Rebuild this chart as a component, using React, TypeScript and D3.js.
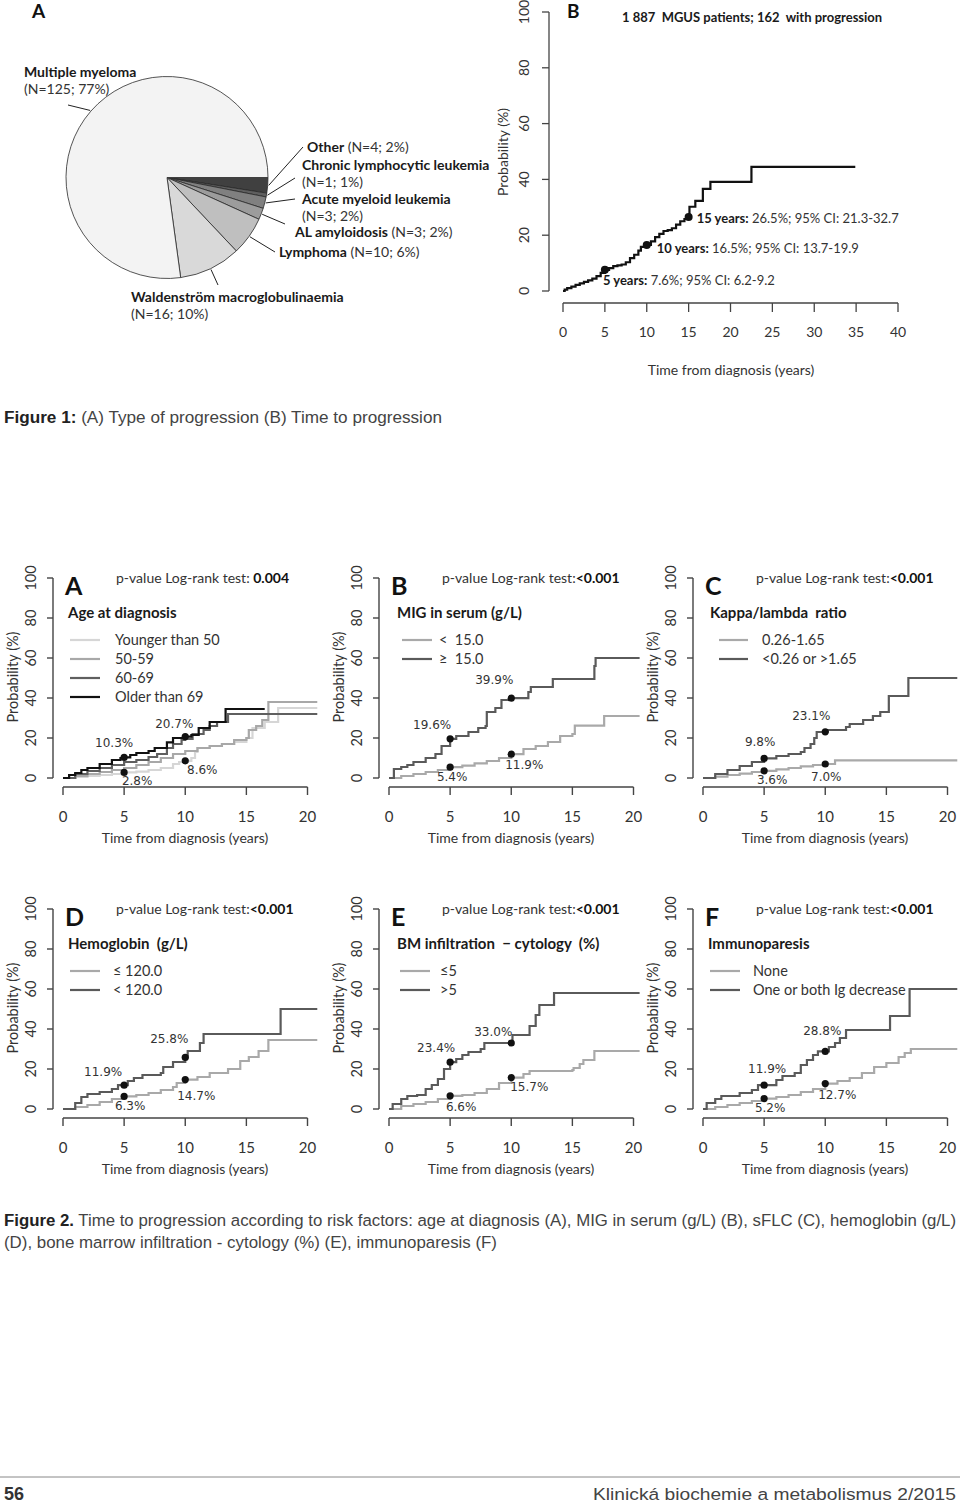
import React from "react";
import * as d3 from "d3";

// ---------------- DATA ----------------
// Figure 1A – type of progression (pie)
const pieCategories = [
  "Other",
  "Chronic lymphocytic leukemia",
  "Acute myeloid leukemia",
  "AL amyloidosis",
  "Lymphoma",
  "Waldenström macroglobulinaemia",
  "Multiple myeloma",
];
const pieCounts = [4, 1, 3, 3, 10, 16, 125];
const piePercents = [2, 1, 2, 2, 6, 10, 77];
const pieColors = ["#404040", "#5f5f5f", "#808080", "#9c9c9c", "#bfbfbf", "#d9d9d9", "#f3f3f3"];

// Figure 1B – time to progression, whole cohort
const mgusTitle = "1 887  MGUS patients; 162  with progression";
const mgusCurve: [number, number][] = [
  [0, 0], [0.2, 0.5], [0.5, 1], [1, 1.6], [1.5, 2.2], [2, 2.7], [2.5, 3.3], [3, 3.8], [3.5, 4.4],
  [4, 5.3], [4.5, 6.5], [5, 7.6], [5.5, 8.2], [6, 8.9], [6.5, 9.2], [7, 9.5], [7.5, 10.3], [8, 11.8],
  [8.5, 13], [9, 14.5], [9.3, 15.8], [10, 16.5], [10.5, 17.8], [11, 19.3], [11.5, 20.5], [12, 21.5],
  [12.5, 21.8], [13, 22.5], [13.5, 23.8], [14, 25], [14.5, 25.8], [15, 26.5], [15.1, 30.2], [15.8, 32.3],
  [16.7, 36.6], [17.6, 39.1], [22.5, 44.5], [34.9, 44.5],
];
const mgusMilestoneYears = [5, 10, 15];
const mgusMilestoneProb = [7.6, 16.5, 26.5];
const mgusMilestoneCI = ["6.2-9.2", "13.7-19.9", "21.3-32.7"];
const fig1XTicks = [0, 5, 10, 15, 20, 25, 30, 35, 40];
const fig1YTicks = [0, 20, 40, 60, 80, 100];

// Figure 2 – ticks
const fig2XTicks = [0, 5, 10, 15, 20];
const fig2YTicks = [0, 20, 40, 60, 80, 100];

// Figure 2A – age at diagnosis
const ageYounger50: [number, number][] = [
  [0, 0], [1, 0.5], [2, 1], [3, 1.5], [4, 2], [5, 2.8], [6, 3.2], [7, 4], [8, 5], [9, 7], [9.5, 8],
  [10, 8.6], [10.5, 10], [10.8, 13], [11, 15], [12, 16], [13, 17], [14, 18], [15, 20], [15.5, 25],
  [16.5, 28], [17.6, 35], [20.8, 35],
];
const age50to59: [number, number][] = [
  [0, 0], [1, 1], [2, 2], [3, 3], [4, 4], [5, 5], [6, 6.5], [7, 8], [8, 10], [9, 12], [10, 13.5],
  [11, 15], [12, 16], [13, 17], [14, 19], [15, 20], [15.2, 24], [15.8, 26], [16.3, 29], [16.8, 38], [20.8, 38],
];
const age60to69: [number, number][] = [
  [0, 0], [1, 2], [2, 3.5], [3, 5], [4, 6.5], [5, 8], [6, 9], [7, 10.5], [7.7, 12], [8.5, 15], [9, 17],
  [9.7, 19], [10, 19.5], [10.6, 22], [11.5, 24], [12, 26], [12.6, 28], [13.5, 32], [20.8, 32],
];
const ageOver69: [number, number][] = [
  [0, 0], [0.5, 1.5], [1, 2.5], [1.5, 4], [2, 5], [3, 7], [4, 9], [4.7, 10], [5, 10.3], [5.5, 11.5],
  [6, 12.5], [7, 13.5], [7.5, 15], [8.5, 17.8], [9, 20], [10, 20.7], [10.5, 21.5], [11.1, 25], [12, 28],
  [13.3, 34.5], [16.5, 34.5],
];
const ageMarkYears = [5, 5, 10, 10];
const ageMarkValues = [10.3, 2.8, 20.7, 8.6];

// Figure 2B – MIG in serum
const migLow: [number, number][] = [
  [0, 0], [1, 1], [2, 2], [3, 3], [4, 4], [5, 5.4], [6, 6.2], [7, 7.3], [8, 8.5], [9, 10], [10, 11.9],
  [11, 14.5], [12, 16], [13, 18], [14, 21], [15, 22], [15.2, 26.2], [17.6, 31], [20.5, 31],
];
const migHigh: [number, number][] = [
  [0, 0], [0.4, 4.5], [1, 5.5], [1.5, 6.5], [2, 8], [3, 10], [3.8, 12], [4.3, 16], [5, 19.6], [5.5, 21],
  [6.5, 23], [7.3, 25], [7.9, 26], [8, 33], [8.7, 35], [9.2, 39], [10, 39.9], [11.4, 43], [11.6, 45.5],
  [13.4, 49.5], [16.8, 56], [16.9, 60], [20.5, 60],
];
const migMarkYears = [5, 5, 10, 10];
const migMarkValues = [19.6, 5.4, 39.9, 11.9];

// Figure 2C – kappa/lambda ratio
const kappaNormal: [number, number][] = [
  [0, 0], [1, 0.7], [2, 1.5], [3, 2.2], [4, 3], [5, 3.6], [6, 4.3], [7, 5], [8, 5.8], [9, 6.5], [10, 7],
  [10.8, 8.8], [20.8, 8.8],
];
const kappaAbnormal: [number, number][] = [
  [0, 0], [1, 2], [2, 4], [3, 6], [4, 8], [5, 9.8], [6, 11], [7, 12], [8, 13], [8.3, 15], [8.8, 17],
  [9.1, 20], [9.3, 23], [10, 23.1], [10.2, 24], [11.7, 25.5], [12, 27], [13.1, 29], [13.9, 31], [14.5, 33],
  [15.2, 41], [16.8, 50], [20.8, 50],
];
const kappaMarkYears = [5, 5, 10, 10];
const kappaMarkValues = [9.8, 3.6, 23.1, 7.0];

// Figure 2D – hemoglobin
const hbLow: [number, number][] = [
  [0, 0], [1, 1], [2, 2], [3, 3.5], [4, 5], [5, 6.3], [6, 7], [7, 8], [8, 9.5], [9, 11], [9.3, 13],
  [10, 14.7], [11, 16], [12, 18], [13.5, 20], [14.5, 24], [15.2, 26], [16, 29], [16.8, 34.5], [20.8, 34.5],
];
const hbHigh: [number, number][] = [
  [0, 0], [1, 3], [1.5, 6], [2, 7.5], [3, 8.5], [4, 10], [4.5, 11.9], [5.3, 14], [5.8, 15.5], [6.5, 17],
  [8, 18], [8.2, 21], [9, 23.5], [10, 25.8], [10.2, 29], [11.2, 33], [11.5, 37.5], [17.8, 50], [20.8, 50],
];
const hbMarkYears = [5, 5, 10, 10];
const hbMarkValues = [11.9, 6.3, 25.8, 14.7];

// Figure 2E – BM infiltration
const bmLow: [number, number][] = [
  [0, 0], [1, 1.5], [2, 2.5], [3, 3.5], [4, 5], [5, 6.6], [6, 7], [7, 8], [8, 10], [9, 13], [10, 15.7],
  [11, 17.5], [11.5, 19], [15, 19.5], [15.1, 20.5], [15.6, 22.5], [15.9, 24.5], [16.8, 29], [20.5, 29],
];
const bmHigh: [number, number][] = [
  [0, 0], [0.3, 2.5], [1, 5], [1.5, 6.5], [2.3, 7], [3, 10], [3.5, 12], [4, 15], [4.5, 20], [5, 23.4],
  [5.5, 25], [6, 27], [6.5, 28.5], [7.5, 30], [7.8, 33], [10.1, 37], [11.5, 41.5], [12, 47], [12.3, 52],
  [13.5, 58], [20.5, 58],
];
const bmMarkYears = [5, 5, 10, 10];
const bmMarkValues = [23.4, 6.6, 33.0, 15.7];

// Figure 2F – immunoparesis
const ipNone: [number, number][] = [
  [0, 0], [1, 1], [2, 2], [3, 3], [4, 4], [5, 5.2], [6, 6], [7, 7], [8, 8.5], [9, 10], [10, 12.7],
  [11, 14], [12, 15.5], [13, 18], [14, 21], [15, 23], [16, 26], [16.5, 28], [17, 30], [20.8, 30],
];
const ipDecrease: [number, number][] = [
  [0, 0], [0.3, 3], [1, 5], [1.5, 6.5], [3, 8], [4, 9.5], [4.5, 11.9], [6, 14.5], [6.5, 16.5], [7.5, 18],
  [8, 22], [8.5, 24.5], [9, 27], [9.4, 28.8], [10.3, 31], [10.8, 33], [11.2, 35.5], [11.7, 39.5],
  [15.3, 46.5], [16.9, 60], [20.8, 60],
];
const ipMarkYears = [5, 5, 10, 10];
const ipMarkValues = [11.9, 5.2, 28.8, 12.7];

const fig2Letters = ["A", "B", "C", "D", "E", "F"];
const fig2PValues = ["0.004", "<0.001", "<0.001", "<0.001", "<0.001", "<0.001"];
const fig2Titles = [
  "Age at diagnosis",
  "MIG in serum (g/L)",
  "Kappa/lambda  ratio",
  "Hemoglobin  (g/L)",
  "BM infiltration  \u2212 cytology  (%)",
  "Immunoparesis",
];

// ---------------- STYLE / LAYOUT ----------------
const FONT = "Lato, 'Open Sans', sans-serif";
const CAPTION_FONT = "'Liberation Sans', Arial, sans-serif";
const LIGHT = "#a9a9a9";
const DARK = "#5a5a5a";
const CAP_SX = 0.88;

const pieLayout = [
  { lead: [303, 147], x: 307, y: 152, split: false },
  { lead: [295, 178], x: 302, y: 170, split: true },
  { lead: [295, 199], x: 302, y: 204, split: true },
  { lead: [285, 224], x: 295, y: 237, split: false },
  { lead: [275, 252], x: 279, y: 257, split: false },
  { lead: [218, 285], x: 131, y: 302, split: true },
  { lead: [68, 105], x: 24, y: 77, split: true },
];

const fig2Panels = [
  {
    series: [
      { name: "Younger than 50", data: ageYounger50, color: "#d6d6d6" },
      { name: "50-59", data: age50to59, color: "#a8a8a8" },
      { name: "60-69", data: age60to69, color: "#5f5f5f" },
      { name: "Older than 69", data: ageOver69, color: "#111111" },
    ],
    markYears: ageMarkYears, markValues: ageMarkValues,
  },
  {
    series: [
      { name: "<  15.0", data: migLow, color: LIGHT },
      { name: "\u2265  15.0", data: migHigh, color: DARK },
    ],
    markYears: migMarkYears, markValues: migMarkValues,
  },
  {
    series: [
      { name: "0.26-1.65", data: kappaNormal, color: LIGHT },
      { name: "<0.26 or >1.65", data: kappaAbnormal, color: DARK },
    ],
    markYears: kappaMarkYears, markValues: kappaMarkValues,
  },
  {
    series: [
      { name: "\u2264 120.0", data: hbLow, color: LIGHT },
      { name: "< 120.0", data: hbHigh, color: DARK },
    ],
    markYears: hbMarkYears, markValues: hbMarkValues,
  },
  {
    series: [
      { name: "\u22645", data: bmLow, color: LIGHT },
      { name: ">5", data: bmHigh, color: DARK },
    ],
    markYears: bmMarkYears, markValues: bmMarkValues,
  },
  {
    series: [
      { name: "None", data: ipNone, color: LIGHT },
      { name: "One or both Ig decrease", data: ipDecrease, color: DARK },
    ],
    markYears: ipMarkYears, markValues: ipMarkValues,
  },
];

const fig2Layout = [
  { ox: 0, oy: 560, titleX: 68, lx1: 70, lx2: 100, tx: 115, pvSpace: true,
    offs: [[-10, -10], [13, 13], [-11, -9], [17, 13]] },
  { ox: 326, oy: 560, titleX: 71, lx1: 76, lx2: 106, tx: 113, pvSpace: false,
    offs: [[-18, -10], [2, 14], [-17, -14], [13, 15]] },
  { ox: 640, oy: 560, titleX: 70, lx1: 79, lx2: 108, tx: 122, pvSpace: false,
    offs: [[-4, -12], [8, 13], [-14, -12], [1, 17]] },
  { ox: 0, oy: 891, titleX: 68, lx1: 70, lx2: 100, tx: 113, pvSpace: false,
    offs: [[-21, -9], [6, 14], [-16, -14], [11, 20]] },
  { ox: 326, oy: 891, titleX: 71, lx1: 74, lx2: 104, tx: 114, pvSpace: false,
    offs: [[-14, -10], [11, 15], [-18, -7], [18, 13]] },
  { ox: 640, oy: 891, titleX: 68, lx1: 70, lx2: 100, tx: 113, pvSpace: false,
    offs: [[3, -12], [6, 13], [-3, -16], [12, 15]] },
];

// ---------------- COMPONENTS ----------------
function PieChart() {
  const cx = 167, cy = 177.5, r = 101;
  const arcs = d3
    .pie<number>()
    .sort(null)
    .startAngle(Math.PI / 2)
    .endAngle(Math.PI / 2 + 2 * Math.PI)(pieCounts);
  const arc = d3.arc<d3.PieArcDatum<number>>().innerRadius(0).outerRadius(r);
  return (
    <g>
      <text x={32} y={18} fontFamily={FONT} fontWeight={700} fontSize={19} fill="#111">A</text>
      <g transform={`translate(${cx},${cy})`}>
        {arcs.map((a, i) => (
          <path key={i} d={arc(a) || ""} fill={pieColors[i]} stroke="#2a2a2a" strokeWidth={0.8} />
        ))}
      </g>
      {arcs.map((a, i) => {
        const mid = (a.startAngle + a.endAngle) / 2;
        const sx = cx + (r + 1) * Math.sin(mid);
        const sy = cy - (r + 1) * Math.cos(mid);
        const L = pieLayout[i];
        const detail = `(N=${pieCounts[i]}; ${piePercents[i]}%)`;
        return (
          <g key={i} fontFamily={FONT} fontSize={14}>
            <line x1={sx} y1={sy} x2={L.lead[0]} y2={L.lead[1]} stroke="#222" strokeWidth={1} />
            {L.split ? (
              <>
                <text x={L.x} y={L.y} fontWeight={700} fill="#1a1a1a">{pieCategories[i]}</text>
                <text x={L.x} y={L.y + 17} fill="#333">{detail}</text>
              </>
            ) : (
              <text x={L.x} y={L.y} fill="#333" style={{ whiteSpace: "pre" }}>
                <tspan fontWeight={700} fill="#1a1a1a">{pieCategories[i]}</tspan>
                {" " + detail}
              </text>
            )}
          </g>
        );
      })}
    </g>
  );
}

function MgusChart() {
  const x = d3.scaleLinear().domain([0, 40]).range([563, 898]);
  const y = d3.scaleLinear().domain([0, 100]).range([291, 12]);
  const line = d3
    .line<[number, number]>()
    .x((d) => x(d[0]))
    .y((d) => y(d[1]))
    .curve(d3.curveStepAfter);
  const offs = [[-2, 15], [10, 8], [8, 6]];
  return (
    <g fontFamily={FONT} fill="#333">
      <line x1={549} x2={549} y1={y(100)} y2={y(0)} stroke="#444" strokeWidth={1.3} />
      {fig1YTicks.map((t) => (
        <g key={t}>
          <line x1={542} x2={549} y1={y(t)} y2={y(t)} stroke="#444" strokeWidth={1.3} />
          <text transform={`translate(523,${y(t)}) rotate(-90)`} textAnchor="middle" dominantBaseline="central" fontSize={14}>{t}</text>
        </g>
      ))}
      <line x1={x(0)} x2={x(40)} y1={303} y2={303} stroke="#444" strokeWidth={1.3} />
      {fig1XTicks.map((t) => (
        <g key={t}>
          <line x1={x(t)} x2={x(t)} y1={303} y2={312} stroke="#444" strokeWidth={1.3} />
          <text x={x(t)} y={337} textAnchor="middle" fontSize={14}>{t}</text>
        </g>
      ))}
      <text x={731} y={375} textAnchor="middle" fontSize={14}>Time from diagnosis (years)</text>
      <text transform="translate(502,152) rotate(-90)" textAnchor="middle" dominantBaseline="central" fontSize={14}>Probability (%)</text>
      <text x={567} y={18} fontWeight={700} fontSize={19} fill="#111">B</text>
      <text x={622} y={22} fontWeight={700} fontSize={13} fill="#1a1a1a" style={{ whiteSpace: "pre" }}>{mgusTitle}</text>
      <path d={line(mgusCurve) || ""} fill="none" stroke="#111" strokeWidth={2.2} />
      {mgusMilestoneYears.map((yr, i) => (
        <g key={yr}>
          <circle cx={x(yr)} cy={y(mgusMilestoneProb[i])} r={4} fill="#111" />
          <text x={x(yr) + offs[i][0]} y={y(mgusMilestoneProb[i]) + offs[i][1]} fontSize={13} fill="#333">
            <tspan fontWeight={700} fill="#1a1a1a">{`${yr} years:`}</tspan>
            {` ${mgusMilestoneProb[i].toFixed(1)}%; 95% CI: ${mgusMilestoneCI[i]}`}
          </text>
        </g>
      ))}
    </g>
  );
}

function KmPanel({ idx }: { idx: number }) {
  const P = fig2Panels[idx];
  const L = fig2Layout[idx];
  const x = d3.scaleLinear().domain([0, 20]).range([63, 307.5]);
  const y = d3.scaleLinear().domain([0, 100]).range([218, 18]);
  const line = d3
    .line<[number, number]>()
    .x((d) => x(d[0]))
    .y((d) => y(d[1]))
    .curve(d3.curveStepAfter);
  return (
    <g transform={`translate(${L.ox},${L.oy})`} fontFamily={FONT} fill="#333">
      <line x1={53} x2={53} y1={y(100)} y2={y(0)} stroke="#444" strokeWidth={1.4} />
      {fig2YTicks.map((t) => (
        <g key={t}>
          <line x1={47} x2={53} y1={y(t)} y2={y(t)} stroke="#444" strokeWidth={1.4} />
          <text transform={`translate(30,${y(t)}) rotate(-90)`} textAnchor="middle" dominantBaseline="central" fontSize={14.5}>{t}</text>
        </g>
      ))}
      <line x1={x(0)} x2={x(20)} y1={227} y2={227} stroke="#444" strokeWidth={1.4} />
      {fig2XTicks.map((t) => (
        <g key={t}>
          <line x1={x(t)} x2={x(t)} y1={227} y2={235} stroke="#444" strokeWidth={1.4} />
          <text x={x(t)} y={262} textAnchor="middle" fontSize={15}>{t}</text>
        </g>
      ))}
      <text x={185} y={283} textAnchor="middle" fontSize={14}>Time from diagnosis (years)</text>
      <text transform="translate(12,117) rotate(-90)" textAnchor="middle" dominantBaseline="central" fontSize={14.5}>Probability (%)</text>
      <text x={65} y={35} fontWeight={700} fontSize={25} fill="#111">{fig2Letters[idx]}</text>
      <text x={116} y={23} fontSize={14} fill="#333">
        {L.pvSpace ? "p-value Log-rank test: " : "p-value Log-rank test:"}
        <tspan fontWeight={700} fill="#111">{fig2PValues[idx]}</tspan>
      </text>
      <text x={L.titleX} y={58} fontWeight={700} fontSize={15} fill="#1a1a1a" style={{ whiteSpace: "pre" }}>{fig2Titles[idx]}</text>
      {P.series.map((s, i) => (
        <g key={s.name}>
          <line x1={L.lx1} x2={L.lx2} y1={80 + i * 19} y2={80 + i * 19} stroke={s.color} strokeWidth={2.2} />
          <text x={L.tx} y={80 + i * 19 + 5} fontSize={14.5} fill="#333" style={{ whiteSpace: "pre" }}>{s.name}</text>
        </g>
      ))}
      {P.series.map((s) => (
        <path key={s.name} d={line(s.data) || ""} fill="none" stroke={s.color} strokeWidth={2.2} />
      ))}
      {P.markYears.map((yr, i) => (
        <g key={i}>
          <circle cx={x(yr)} cy={y(P.markValues[i])} r={3.6} fill="#111" />
          <text
            x={x(yr) + L.offs[i][0]}
            y={y(P.markValues[i]) + L.offs[i][1]}
            textAnchor="middle"
            fontFamily="'DejaVu Sans', sans-serif"
            fontSize={12}
            fill="#333"
          >
            {P.markValues[i].toFixed(1) + "%"}
          </text>
        </g>
      ))}
    </g>
  );
}

function Caption({ x, y, width, bold, rest }: { x: number; y: number; width: number; bold?: string; rest: string }) {
  return (
    <g transform={`scale(${CAP_SX},1)`}>
      <text
        x={x / CAP_SX}
        y={y}
        fontFamily={CAPTION_FONT}
        fontSize={17}
        fill="#444"
        textLength={width / CAP_SX}
        lengthAdjust="spacingAndGlyphs"
        style={{ whiteSpace: "pre" }}
      >
        {bold ? <tspan fontWeight={700} fill="#222">{bold}</tspan> : null}
        {rest}
      </text>
    </g>
  );
}

export default function App() {
  return (
    <svg
      width={960}
      height={1505}
      viewBox="0 0 960 1505"
      style={{ position: "absolute", left: 0, top: 0, background: "#fff" }}
    >
      <rect width={960} height={1505} fill="#fff" />
      <PieChart />
      <MgusChart />
      <Caption x={4} y={423} width={438} bold="Figure 1:" rest=" (A) Type of progression (B) Time to progression" />
      {fig2Panels.map((_, i) => (
        <KmPanel key={i} idx={i} />
      ))}
      <Caption
        x={4}
        y={1226}
        width={952}
        bold="Figure 2."
        rest=" Time to progression according to risk factors: age at diagnosis (A), MIG in serum (g/L) (B), sFLC (C), hemoglobin (g/L)"
      />
      <Caption x={4} y={1248} width={493} rest="(D), bone marrow infiltration - cytology (%) (E), immunoparesis (F)" />
      <line x1={0} x2={960} y1={1477} y2={1477} stroke="#888" strokeWidth={1} />
      <text x={4} y={1500} fontFamily={CAPTION_FONT} fontSize={18} fontWeight={700} fill="#333">56</text>
      <Caption x={593} y={1500} width={363} rest="Klinická biochemie a metabolismus 2/2015" />
    </svg>
  );
}
